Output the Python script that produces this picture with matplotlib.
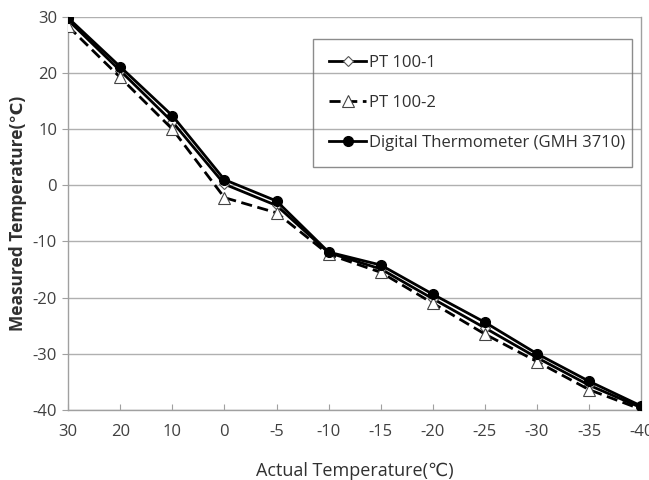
import matplotlib
matplotlib.use("Agg")
import matplotlib.pyplot as plt

categories = ["30", "20", "10", "0", "-5", "-10", "-15", "-20", "-25", "-30", "-35", "-40"]
pt100_1 = [29.4, 20.4, 11.3, 0.2, -3.6, -12.0, -14.9, -20.2, -25.4, -30.7, -35.6, -39.6]
pt100_2 = [28.3, 19.2, 10.0, -2.2, -4.9, -12.3, -15.5, -21.0, -26.5, -31.4, -36.4, -39.9]
digital = [29.8, 21.1, 12.4, 1.0, -2.8, -11.9, -14.2, -19.4, -24.4, -30.0, -34.9, -39.3]
series_names = ["PT 100-1", "PT 100-2", "Digital Thermometer (GMH 3710)"]
yticks = [30, 20, 10, 0, -10, -20, -30, -40]

plt.rcParams['font.family'] = ['Open Sans', 'DejaVu Sans']
plt.rcParams['axes.unicode_minus'] = False

fig = plt.figure(figsize=(6.49, 4.8), dpi=100)
ax = fig.add_axes([0.105, 0.146, 0.883, 0.819])

x = list(range(len(categories)))
ax.plot(x, pt100_1, color='black', lw=2.0, ls='-', marker='D', ms=5,
        mfc='white', mec='#555555', mew=0.8, label=series_names[0], zorder=3)
ax.plot(x, pt100_2, color='black', lw=2.0, ls=(0, (4, 2)), marker='^', ms=8,
        mfc='white', mec='#444444', mew=0.8, label=series_names[1], zorder=4)
ax.plot(x, digital, color='black', lw=2.0, ls='-', marker='o', ms=7,
        mfc='black', mec='black', label=series_names[2], zorder=5)

ax.set_xlim(0, len(categories) - 1)
ax.set_ylim(-40, 30)
ax.set_yticks(yticks)
ax.set_xticks(x)
ax.set_xticklabels(categories)
ax.yaxis.grid(True, color='#b0b0b0', lw=1.0)
ax.set_axisbelow(True)

for s in ['left', 'bottom', 'right']:
    ax.spines[s].set_color('#a0a0a0')
    ax.spines[s].set_linewidth(1.0)
ax.spines['top'].set_visible(False)

ax.tick_params(axis='x', direction='in', length=4, color='#a0a0a0',
               labelsize=12, labelcolor='#404040', pad=10)
ax.tick_params(axis='y', direction='out', length=4, color='#a0a0a0',
               labelsize=12, labelcolor='#404040', pad=4)

ax.set_ylabel("Measured Temperature(℃)", fontsize=12.5, fontweight='bold',
              color='#303030', labelpad=4)
ax.set_xlabel("Actual Temperature(℃)", fontsize=13, color='#303030', labelpad=16)

leg = ax.legend(loc='upper left', bbox_to_anchor=(0.428, 0.626, 0.556, 0.318),
                mode='expand', frameon=True, fancybox=False, fontsize=12,
                labelspacing=1.45, handlelength=2.2, handletextpad=0.2,
                borderpad=0.95, borderaxespad=0)
leg.get_frame().set_facecolor('none')
leg.get_frame().set_edgecolor('#707070')
leg.get_frame().set_linewidth(1.0)
for t in leg.get_texts():
    t.set_color('#303030')

fig.savefig("out.png", dpi=100)
